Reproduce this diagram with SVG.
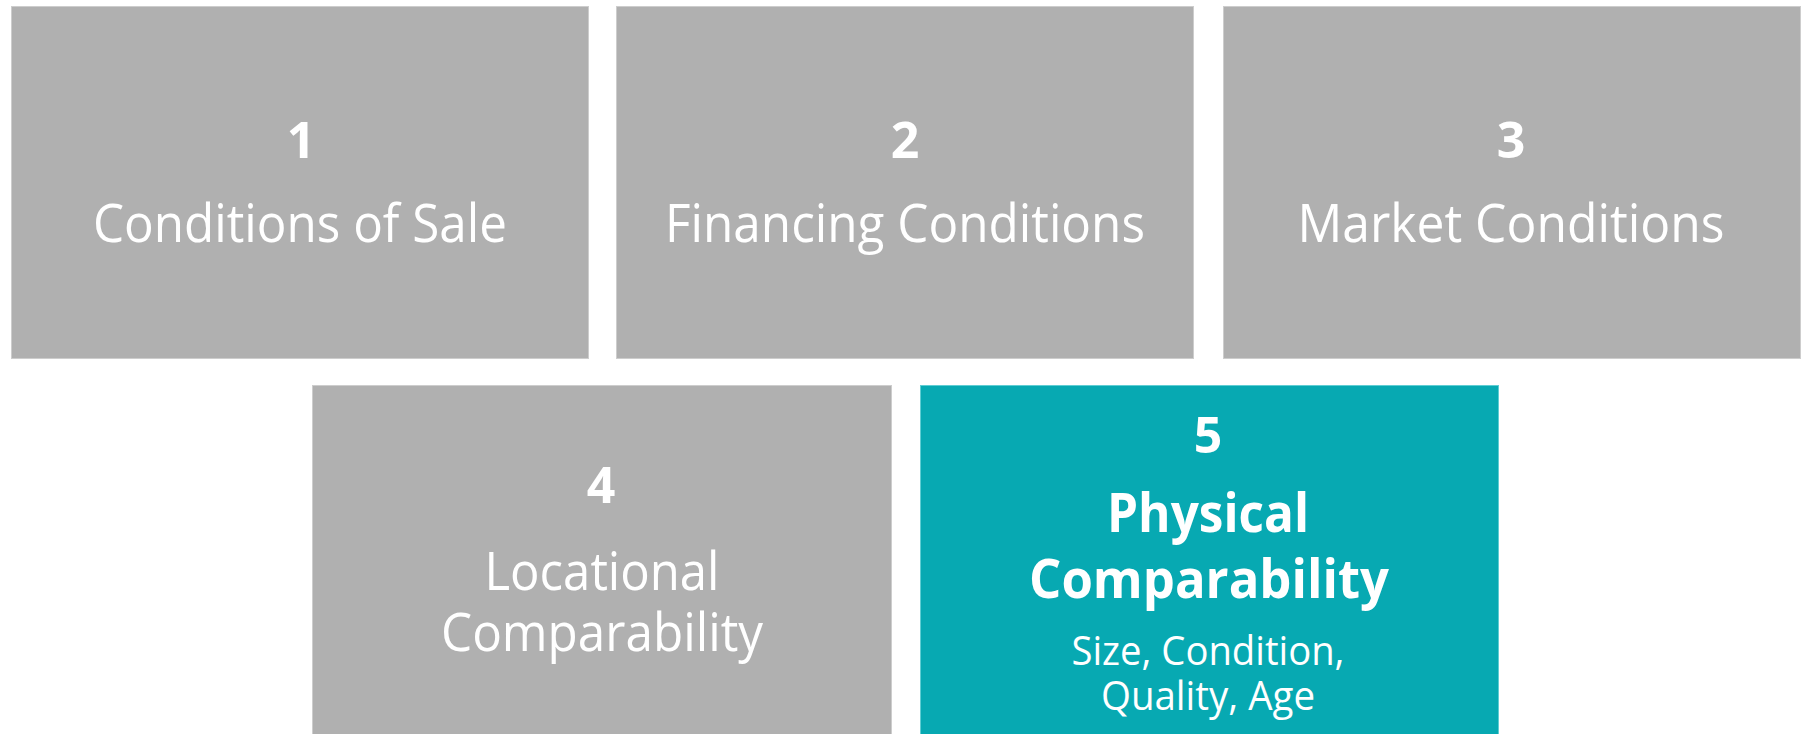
<svg xmlns="http://www.w3.org/2000/svg" width="1801" height="734" viewBox="0 0 1801 734">
  <style>
    .box { fill: #b0b0b0; stroke: #cdcdcd; stroke-width: 1; }
    .box.hi { fill: #07a9b2; stroke: #5fcdd3; }
    text { fill: #ffffff; font-family: "Open Sans", "Noto Sans", "Liberation Sans", sans-serif; text-anchor: middle; }
    .num { font-weight: 700; font-size: 50px; }
    .lbl { font-size: 53px; }
    .big { font-weight: 700; font-size: 53px; }
    .sub { font-size: 40px; }
  </style>
  <rect width="1801" height="734" fill="#ffffff"/>

  <g id="node1">
    <rect class="box" x="11.5" y="6.5" width="577" height="352"/>
    <text class="num" x="301" y="158">1</text>
    <text class="lbl" x="300" y="242" textLength="414" lengthAdjust="spacingAndGlyphs">Conditions of Sale</text>
  </g>

  <g id="node2">
    <rect class="box" x="616.5" y="6.5" width="577" height="352"/>
    <text class="num" x="905" y="158">2</text>
    <text class="lbl" x="905" y="242" textLength="480" lengthAdjust="spacingAndGlyphs">Financing Conditions</text>
  </g>

  <g id="node3">
    <rect class="box" x="1223.5" y="6.5" width="577" height="352"/>
    <text class="num" x="1511" y="158">3</text>
    <text class="lbl" x="1511" y="242" textLength="427" lengthAdjust="spacingAndGlyphs">Market Conditions</text>
  </g>

  <g id="node4">
    <rect class="box" x="312.5" y="385.5" width="579" height="360"/>
    <text class="num" x="601" y="503">4</text>
    <text class="lbl" x="602" y="590" textLength="235" lengthAdjust="spacingAndGlyphs">Locational</text>
    <text class="lbl" x="602" y="651" textLength="322" lengthAdjust="spacingAndGlyphs">Comparability</text>
  </g>

  <g id="node5">
    <rect class="box hi" x="920.5" y="385.5" width="578" height="360"/>
    <text class="num" x="1208" y="453">5</text>
    <text class="big" x="1208" y="532" textLength="202" lengthAdjust="spacingAndGlyphs">Physical</text>
    <text class="big" x="1209" y="598" textLength="360" lengthAdjust="spacingAndGlyphs">Comparability</text>
    <text class="sub" x="1208" y="665" textLength="273" lengthAdjust="spacingAndGlyphs">Size, Condition,</text>
    <text class="sub" x="1208" y="710" textLength="214" lengthAdjust="spacingAndGlyphs">Quality, Age</text>
  </g>

  <g id="connectors"></g>
</svg>
